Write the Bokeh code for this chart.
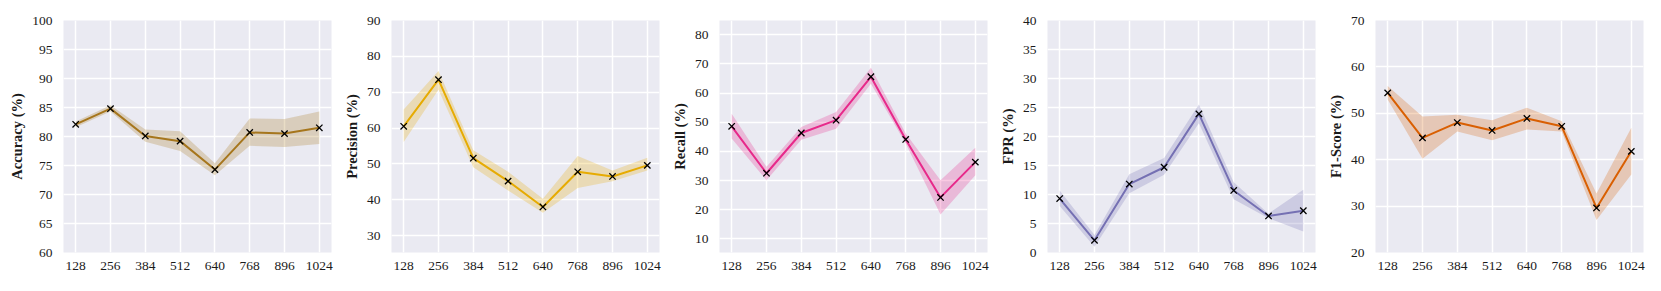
from bokeh.plotting import figure
from bokeh.layouts import row
from bokeh.models import FixedTicker, Range1d
from bokeh.embed import file_html
from bokeh.resources import INLINE

block_sizes = [128, 256, 384, 512, 640, 768, 896, 1024]
tick_labels = ["128", "256", "384", "512", "640", "768", "896", "1024"]

accuracy = [82.1, 84.8, 80.1, 79.2, 74.3, 80.7, 80.5, 81.5]
accuracy_lo = [81.6, 84.3, 79.1, 77.5, 73.3, 78.4, 78.2, 78.7]
accuracy_hi = [82.6, 85.4, 81.2, 80.9, 75.4, 83.1, 83.0, 84.3]

precision = [60.5, 73.5, 51.6, 45.2, 38.0, 47.8, 46.5, 49.6]
precision_lo = [56.1, 70.7, 49.1, 42.6, 36.4, 43.3, 45.2, 48.2]
precision_hi = [65.2, 75.9, 53.8, 47.8, 40.3, 52.2, 48.2, 51.7]

recall = [48.6, 32.5, 46.3, 50.7, 65.6, 44.1, 24.2, 36.3]
recall_lo = [44.4, 30.1, 44.0, 47.8, 63.2, 42.7, 18.3, 31.8]
recall_hi = [52.9, 34.7, 48.4, 53.5, 68.7, 46.1, 30.1, 41.2]

fpr = [9.3, 2.1, 11.8, 14.7, 23.9, 10.7, 6.3, 7.2]
fpr_lo = [8.0, 1.0, 10.2, 13.4, 22.3, 9.2, 5.9, 3.6]
fpr_hi = [10.7, 3.0, 13.5, 16.3, 25.5, 12.1, 6.7, 10.8]

f1 = [54.4, 44.7, 48.0, 46.3, 48.9, 47.2, 29.6, 41.8]
f1_lo = [53.0, 40.2, 46.1, 44.2, 46.5, 46.1, 27.0, 36.8]
f1_hi = [55.9, 49.3, 49.7, 48.5, 51.2, 48.3, 32.7, 46.9]

FONT = "Liberation Serif"
TXT = "#1a1a1a"


def make(label, vals, lo, hi, color, ymin, ymax, yticks, first=False):
    left = 63 if first else 55
    p = figure(width=left + 268 + 5, height=283,
               x_range=Range1d(83.2, 1068.8), y_range=Range1d(ymin, ymax),
               output_backend="svg", toolbar_location=None,
               min_border_left=left, min_border_right=5,
               min_border_top=20, min_border_bottom=31)
    p.background_fill_color = "#EAEAF2"
    p.border_fill_color = "white"
    p.outline_line_color = None
    for ax in (p.xaxis, p.yaxis):
        ax.axis_line_color = None
        ax.major_tick_line_color = None
        ax.minor_tick_line_color = None
        ax.major_tick_out = 0
        ax.major_tick_in = 0
        ax.minor_tick_out = 0
        ax.minor_tick_in = 0
        ax.major_label_text_font = FONT
        ax.major_label_text_font_size = "13.5px"
        ax.major_label_text_color = TXT
    p.xaxis.ticker = FixedTicker(ticks=block_sizes)
    p.xaxis.major_label_overrides = {b: t for b, t in zip(block_sizes, tick_labels)}
    p.yaxis.ticker = FixedTicker(ticks=yticks)
    p.xaxis.major_label_standoff = 9
    p.yaxis.major_label_standoff = 11
    p.yaxis.axis_label = label
    p.yaxis.axis_label_text_font = FONT
    p.yaxis.axis_label_text_font_style = "bold"
    p.yaxis.axis_label_text_font_size = "14.5px"
    p.yaxis.axis_label_text_color = TXT
    p.yaxis.axis_label_standoff = 4
    p.xgrid.ticker = FixedTicker(ticks=block_sizes)
    p.ygrid.ticker = FixedTicker(ticks=yticks)
    for g in (p.xgrid, p.ygrid):
        g.grid_line_color = "white"
        g.grid_line_width = 1.5
    p.varea(x=block_sizes, y1=lo, y2=hi, fill_color=color, fill_alpha=0.25)
    p.line(block_sizes, vals, line_color=color, line_width=2)
    p.scatter(block_sizes, vals, marker="x", size=9, line_color="black", line_width=1.3)
    return p


p1 = make("Accuracy (%)", accuracy, accuracy_lo, accuracy_hi, "#a6761d", 60, 100, list(range(60, 101, 5)), first=True)
p2 = make("Precision (%)", precision, precision_lo, precision_hi, "#e6ab02", 25.3, 90, list(range(30, 91, 10)))
p3 = make("Recall (%)", recall, recall_lo, recall_hi, "#e7298a", 5.3, 84.9, list(range(10, 81, 10)))
p4 = make("FPR (%)", fpr, fpr_lo, fpr_hi, "#7570b3", 0, 40, list(range(0, 41, 5)))
p5 = make("F1-Score (%)", f1, f1_lo, f1_hi, "#d95f02", 20, 70, list(range(20, 71, 10)))

layout = row(p1, p2, p3, p4, p5)
open("out.html", "w").write(file_html(layout, INLINE))
